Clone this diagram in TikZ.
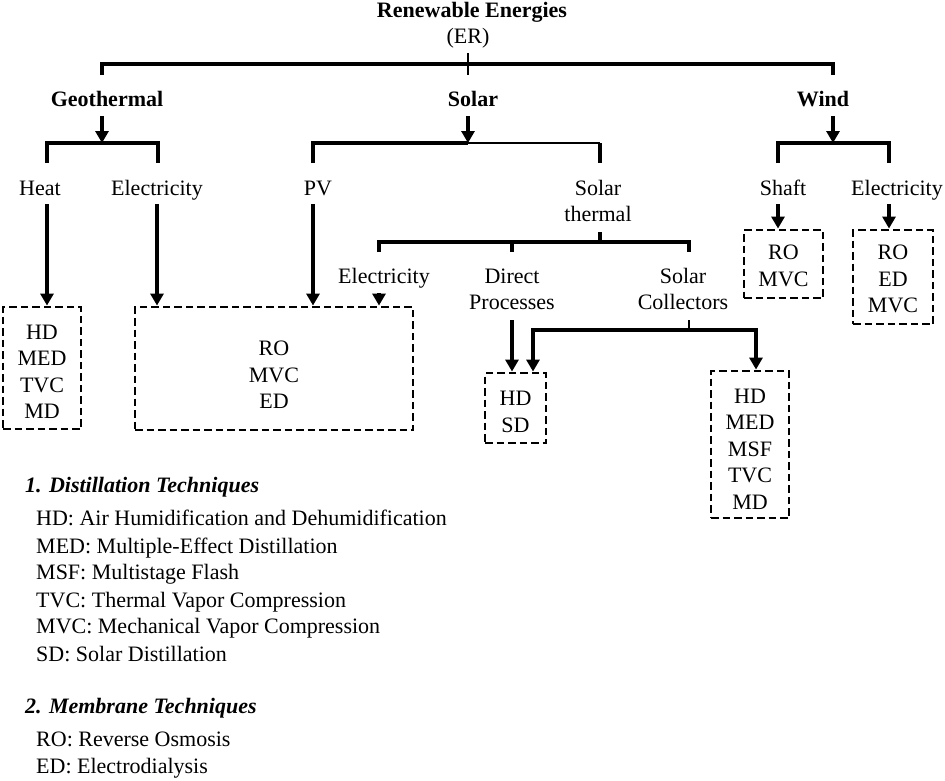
\documentclass[tikz,border=0pt]{standalone}
\usepackage{fontspec}
\setmainfont{Liberation Serif}
\usetikzlibrary{arrows.meta}
\begin{document}
\begin{tikzpicture}[x=1pt,y=-1pt,
  every node/.style={inner sep=0pt, font=\fontsize{22}{26.5}\selectfont},
  lbl/.style={anchor=base},
  hdr/.style={anchor=base, font=\fontsize{22}{26.5}\selectfont\bfseries},
  two/.style={anchor=north, align=center},
  leg/.style={anchor=base west},
  leghead/.style={anchor=base west, font=\fontsize{22}{26.5}\selectfont\bfseries\itshape},
  dbox/.style={draw, dash pattern=on 7.5pt off 4pt, line width=2.9pt, align=center},
  bar/.style={line width=4pt},
  thinbar/.style={line width=2pt},
  arr/.style={line width=4pt, -{Triangle[width=13pt,length=12pt]}},
]
\useasboundingbox (0,0) rectangle (945,780);

% ---------- top level ----------
\node[hdr] (er) at (472,17) {Renewable Energies};
\node[lbl] (erab) at (468,43) {(ER)};
\coordinate (tL) at (102,75);
\coordinate (tR) at (833,75);
\coordinate (tbar) at (468,64);
\coordinate (tk1) at (468,53);
\coordinate (tk2) at (468,75);
\draw[bar] (tL) -- (tL |- tbar) -- (tR |- tbar) -- (tR);
\draw[thinbar] (tk1) -- (tk2);

\node[hdr] (geo) at (107,106) {Geothermal};
\node[hdr] (sol) at (473,106) {Solar};
\node[hdr] (wind) at (823,106) {Wind};

% ---------- geothermal ----------
\coordinate (g0) at (102,116);
\coordinate (gb) at (102,143);
\coordinate (gL) at (47,163);
\coordinate (gR) at (158,163);
\draw[arr] (g0) -- (gb);
\draw[bar] (gL) -- (gL |- gb) -- (gR |- gb) -- (gR);
\node[lbl] (heat) at (40,195) {Heat};
\node[lbl] (el1) at (157,195) {Electricity};

\node[dbox, minimum width=78pt, minimum height=122pt] (b1) at (42,368)
  {\rule{0pt}{22pt}HD\\MED\\TVC\\MD};
\node[dbox, minimum width=278pt, minimum height=123pt] (b2) at (274,368.5)
  {\rule{0pt}{28pt}RO\\MVC\\ED};

\coordinate (h0) at (47,204);
\coordinate (e10) at (157,204);
\draw[arr] (h0) -- (h0 |- b1.north);
\draw[arr] (e10) -- (e10 |- b2.north);

% ---------- solar ----------
\coordinate (s0) at (468,116);
\coordinate (sb) at (468,143);
\coordinate (sL) at (313,163);
\coordinate (sR) at (600,163);
\draw[arr] (s0) -- (sb);
\draw[bar] (sL) -- (sL |- sb) -- (sb);
\draw[thinbar] (sb) -- (sR |- sb);
\draw[bar] (sR |- sb) -- (sR);
\node[lbl] (pv) at (318,195) {PV};
\node[two] (st) at (598,176.45) {\strut Solar\\thermal};
\coordinate (pv0) at (313,204);
\draw[arr] (pv0) -- (pv0 |- b2.north);

\coordinate (stk) at (600,232);
\coordinate (stb) at (600,242);
\coordinate (tL2) at (379,252);
\coordinate (tM2) at (512,252);
\coordinate (tR2) at (689,252);
\draw[bar] (stk) -- (stb);
\draw[bar] (tL2) -- (tL2 |- stb) -- (tR2 |- stb) -- (tR2);
\draw[bar] (tM2 |- stb) -- (tM2);

\node[lbl] (el2) at (384,283) {Electricity};
\node[two] (dp) at (512,264.45) {\strut Direct\\Processes};
\node[two] (sc) at (683,264.45) {\strut Solar\\Collectors};

\coordinate (e20) at (379,293);
\draw[arr] (e20) -- (e20 |- b2.north);

\node[dbox, minimum width=61pt, minimum height=70pt] (b3) at (515.5,408)
  {\rule{0pt}{22pt}HD\\SD};
\node[dbox, minimum width=78pt, minimum height=147pt] (b4) at (750,444.5)
  {\rule{0pt}{24pt}HD\\MED\\MSF\\TVC\\MD};

\coordinate (dp0) at (512,320);
\draw[arr] (dp0) -- (dp0 |- b3.north);
\coordinate (sc0) at (689,320);
\coordinate (scb) at (689,330);
\coordinate (scL) at (533,330);
\coordinate (scR) at (756,330);
\draw[thinbar] (sc0) -- (scb);
\draw[arr] (scb) -- (scL) -- (scL |- b3.north);
\draw[arr] (scb) -- (scR) -- (scR |- b4.north);

% ---------- wind ----------
\coordinate (w0) at (833,116);
\coordinate (wb) at (833,143);
\coordinate (wL) at (778,163);
\coordinate (wR) at (889,163);
\draw[arr] (w0) -- (wb);
\draw[bar] (wL) -- (wL |- wb) -- (wR |- wb) -- (wR);
\node[lbl] (shaft) at (783,195) {Shaft};
\node[lbl] (el3) at (897,195) {Electricity};

\node[dbox, minimum width=79pt, minimum height=68pt] (b5) at (783.5,264)
  {\rule{0pt}{18.6pt}RO\\MVC};
\node[dbox, minimum width=80pt, minimum height=94pt] (b6) at (893,277)
  {\rule{0pt}{18.6pt}RO\\ED\\MVC};

\coordinate (sh0) at (778,204);
\coordinate (e30) at (889,204);
\draw[arr] (sh0) -- (sh0 |- b5.north);
\draw[arr] (e30) -- (e30 |- b6.north);

% ---------- legend ----------
\node[leghead] (lh1) at (25,492) {1. Distillation Techniques};
\node[leg] (l1) at (36,525) {HD: Air Humidification and Dehumidification};
\node[leg] (l2) at (36,553) {MED: Multiple-Effect Distillation};
\node[leg] (l3) at (36,579) {MSF: Multistage Flash};
\node[leg] (l4) at (36,607) {TVC: Thermal Vapor Compression};
\node[leg] (l5) at (36,633) {MVC: Mechanical Vapor Compression};
\node[leg] (l6) at (36,661) {SD: Solar Distillation};
\node[leghead] (lh2) at (25,713) {2. Membrane Techniques};
\node[leg] (l7) at (36,746) {RO: Reverse Osmosis};
\node[leg] (l8) at (36,773) {ED: Electrodialysis};
\end{tikzpicture}
\end{document}
